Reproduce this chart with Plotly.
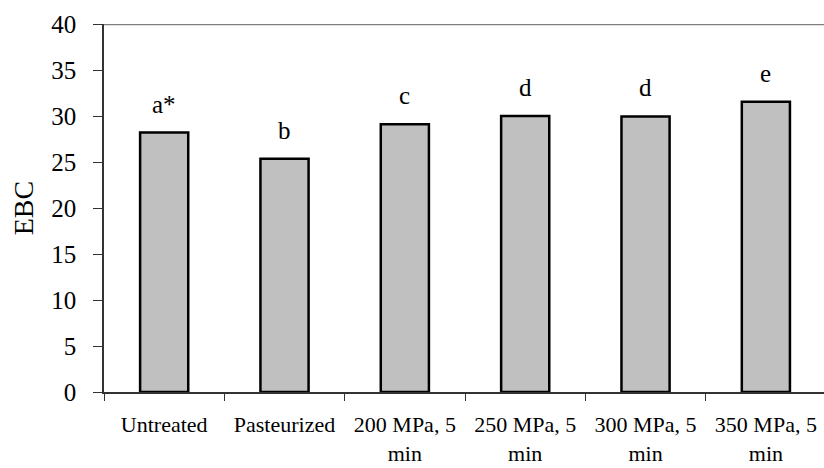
import plotly.graph_objects as go

categories = ["Untreated", "Pasteurized", "200 MPa, 5<br>min", "250 MPa, 5<br>min",
              "300 MPa, 5<br>min", "350 MPa, 5<br>min"]
ebc_values = [28.2, 25.35, 29.1, 30.0, 29.95, 31.55]
letters = ["a*", "b", "c", "d", "d", "e"]
y_ticks = [0, 5, 10, 15, 20, 25, 30, 35, 40]
Y_MAX = 40

FONT = "Liberation Serif"

fig = go.Figure()
fig.add_trace(go.Bar(
    x=categories,
    y=ebc_values,
    width=0.4,
    marker=dict(color="#C0C0C0", line=dict(color="#000000", width=2.5)),
    hoverinfo="skip",
))

for c, v, t in zip(categories, ebc_values, letters):
    fig.add_annotation(x=c, y=v, text=t, showarrow=False, yanchor="bottom",
                       yshift=13, font=dict(family=FONT, size=25, color="#000"))

fig.add_shape(type="line", xref="paper", x0=0, x1=1, yref="y", y0=Y_MAX, y1=Y_MAX,
              line=dict(color="#808080", width=2.5), layer="above")

fig.update_layout(
    width=824, height=468,
    margin=dict(l=104, r=0, t=24, b=75.5),
    paper_bgcolor="white", plot_bgcolor="white",
    showlegend=False,
    font=dict(family=FONT, color="#000"),
    xaxis=dict(
        type="category",
        range=[-0.5, 5.483],
        showgrid=False, zeroline=False,
        showline=True, linecolor="#333333", linewidth=1.5,
        ticks="outside", tickson="boundaries", ticklen=7, tickwidth=1.2, tickcolor="#333333",
        tickfont=dict(family=FONT, size=22, color="#000"),
        ticklabelstandoff=12,
    ),
    yaxis=dict(
        range=[0, Y_MAX], tickmode="array", tickvals=y_ticks,
        showgrid=False, zeroline=False,
        showline=True, linecolor="#333333", linewidth=1.5,
        ticks="outside", ticklen=9, tickwidth=1.2, tickcolor="#333333",
        tickfont=dict(family=FONT, size=25, color="#000"),
        ticklabelstandoff=12,
        title=dict(text="EBC", font=dict(family=FONT, size=28, color="#000"), standoff=9),
    ),
)

fig.write_html("out.html")
